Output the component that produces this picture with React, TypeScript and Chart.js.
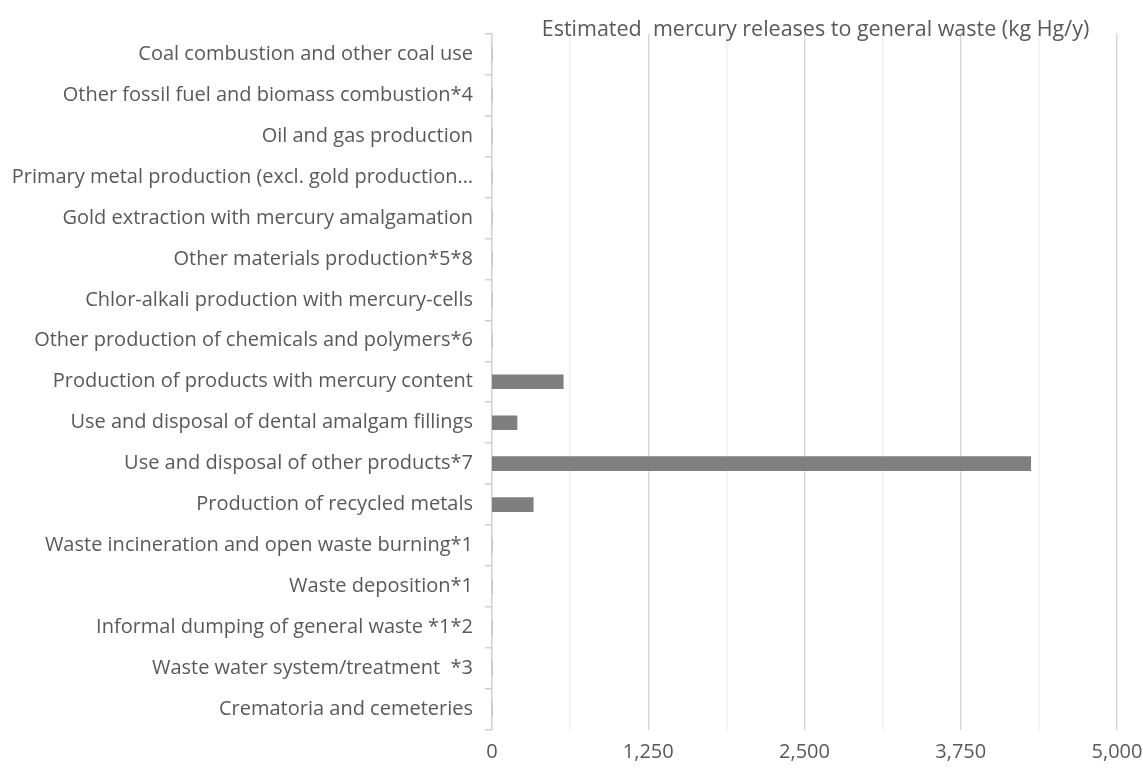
import React, { useEffect, useRef } from "react";
import { Chart, registerables } from "chart.js";

Chart.register(...registerables);

const categories = [
  "Coal combustion and other coal use",
  "Other fossil fuel and biomass combustion*4",
  "Oil and gas production",
  "Primary metal production (excl. gold production…",
  "Gold extraction with mercury amalgamation",
  "Other materials production*5*8",
  "Chlor-alkali production with mercury-cells",
  "Other production of chemicals and polymers*6",
  "Production of products with mercury content",
  "Use and disposal of dental amalgam fillings",
  "Use and disposal of other products*7",
  "Production of recycled metals",
  "Waste incineration and open waste burning*1",
  "Waste deposition*1",
  "Informal dumping of general waste *1*2",
  "Waste water system/treatment  *3",
  "Crematoria and cemeteries",
];

const releases = [0, 0, 0, 0, 0, 0, 0, 0, 570, 200, 4310, 330, 0, 0, 0, 0, 0];

const xMin = 0;
const xMax = 5000;
const xMinorStep = 625;
const xMajorStep = 1250;

const titleText = "Estimated  mercury releases to general waste (kg Hg/y)";

const FONT = '"Open Sans", sans-serif';
const TEXT = "#595959";
const SIZE = 20;

const shiftTitle = {
  id: "shiftTitle",
  afterLayout(chart: any) {
    const t = chart.titleBlock;
    if (t) {
      t.left += 11;
      t.right += 11;
    }
  },
};

export default function App() {
  const ref = useRef<HTMLCanvasElement | null>(null);
  useEffect(() => {
    document.body.style.margin = "0";
    const ctx = ref.current!.getContext("2d")!;
    const chart = new Chart(ctx, {
      type: "bar",
      data: {
        labels: categories,
        datasets: [
          {
            data: releases,
            backgroundColor: "#7f7f7f",
            borderWidth: 0,
            barThickness: 14,
          },
        ],
      },
      plugins: [shiftTitle],
      options: {
        indexAxis: "y",
        animation: false,
        responsive: true,
        maintainAspectRatio: false,
        layout: { padding: { left: 8, right: 0, top: 0, bottom: 7 } },
        plugins: {
          legend: { display: false },
          tooltip: { enabled: false },
          title: {
            display: true,
            text: titleText,
            fullSize: false,
            color: TEXT,
            font: { family: FONT, size: 21.5, weight: "normal", lineHeight: 1 },
            padding: { top: 19, bottom: -7 },
          },
        },
        scales: {
          x: {
            min: xMin,
            max: xMax,
            ticks: {
              stepSize: xMinorStep,
              color: TEXT,
              font: { family: FONT, size: SIZE },
              padding: 10,
              maxRotation: 0,
              autoSkip: false,
              callback: (v: any) =>
                Number(v) % xMajorStep === 0 ? Number(v).toLocaleString("en-US") : "",
            },
            grid: {
              drawTicks: false,
              color: (c: any) =>
                c.tick && c.tick.value % xMajorStep === 0 ? "#d9d9d9" : "#efefef",
              lineWidth: (c: any) => (c.tick && c.tick.value === 0 ? 0 : 1.5),
            },
            border: { display: false },
            afterFit: (scale: any) => {
              scale.height = 34;
              scale.paddingRight = 26;
            },
          },
          y: {
            ticks: {
              color: TEXT,
              font: { family: FONT, size: SIZE },
              padding: 12,
              autoSkip: false,
            },
            grid: {
              drawOnChartArea: false,
              drawTicks: true,
              tickLength: 7,
              color: "#d0d0d0",
              lineWidth: 1.5,
            },
            border: { display: true, color: "#d0d0d0", width: 1.5 },
            afterFit: (scale: any) => {
              scale.width = 484;
            },
          },
        },
      },
    });
    return () => chart.destroy();
  }, []);
  return (
    <div style={{ position: "absolute", left: 0, top: 0, width: 1143, height: 771 }}>
      <canvas ref={ref} />
    </div>
  );
}
